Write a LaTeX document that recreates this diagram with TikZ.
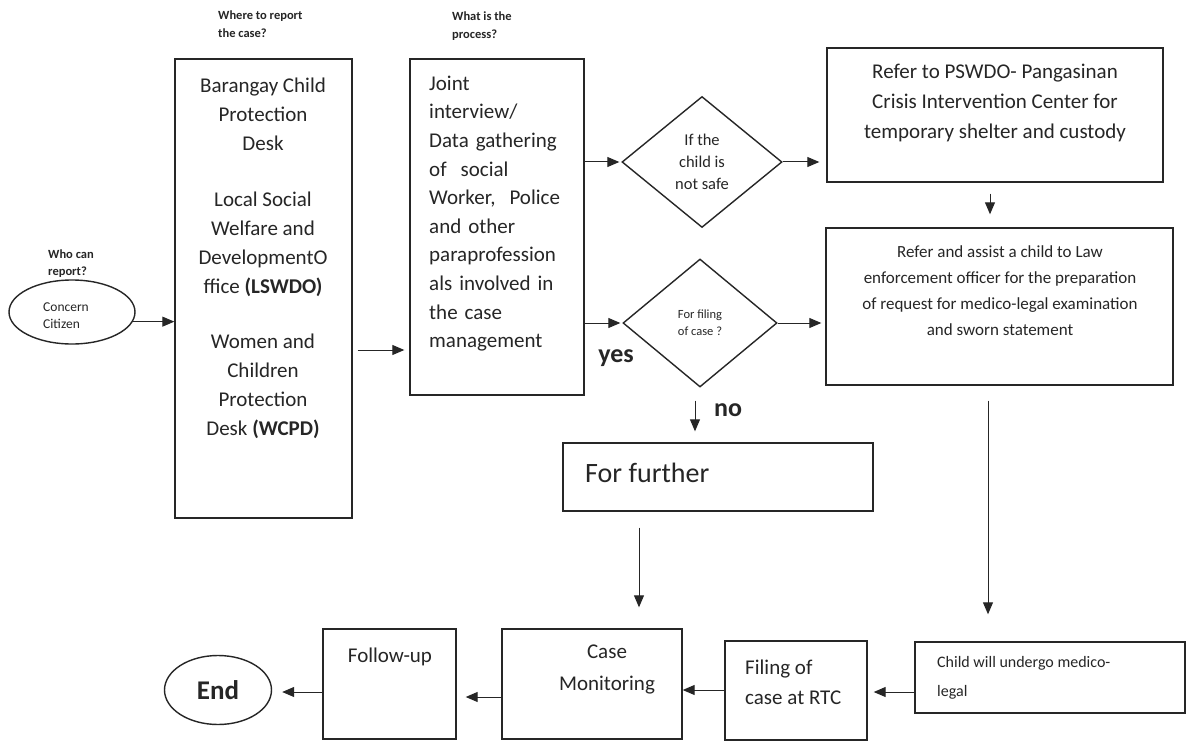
\documentclass[tikz,border=0pt]{standalone}
\usepackage{fontspec}
\setmainfont{Carlito}
\usetikzlibrary{shapes.geometric,arrows.meta}
\newcommand\fsz[2]{\fontsize{#1}{#2}\selectfont}
\begin{document}
\begin{tikzpicture}[x=1pt,y=-1pt,
  every node/.style={text=black!85, inner sep=0pt},
  box/.style={draw=black!85, line width=1.4pt, rectangle, inner sep=0pt},
  oval/.style={draw=black!85, line width=1.4pt, ellipse, inner sep=0pt},
  dia/.style={draw=black!85, line width=1.4pt, diamond, inner sep=0pt},
  arr/.style={draw=black!85, line width=1pt, -{Triangle[length=12pt,width=10pt]}},
  lbl/.style={font=\fsz{12.5}{17.5}\bfseries, align=left, anchor=west},
  txt/.style={font=\fsz{21}{29}, align=center},
]
\fill[white] (0,0) rectangle (1194,741);
\useasboundingbox (0,0) rectangle (1194,741);

% helper coordinates
\coordinate (x990) at (990,0);
\coordinate (x988) at (988,0);
\coordinate (x695) at (695,0);
\coordinate (x639) at (639,0);
\coordinate (y350) at (0,350);
\coordinate (y692) at (0,692);
\coordinate (y690) at (0,690);
\coordinate (y697) at (0,697);

% question labels
\node[lbl] (q1) at (218,24) {Where to report\\the case?};
\node[lbl] (q2) at (452,26) {What is the\\process?};
\node[lbl] (q3) at (48,263.5) {Who can\\report?};

% start ellipse
\node[oval, minimum width=126pt, minimum height=64pt] (cc) at (72,312) {};
\node[font=\fsz{13.5}{17}, align=left, anchor=west] (cct) at (43,315.5) {Concern\\Citizen};

% box 1
\node[box, minimum width=177pt, minimum height=459pt] (b1) at (263.5,288.5) {};
\node[txt] (t1a) at (263,114) {Barangay Child\\Protection\\Desk};
\node[txt] (t1b) at (263,244) {Local Social\\Welfare and\\DevelopmentO\\ffice \textbf{(LSWDO)}};
\node[txt] (t1c) at (263,386.5) {Women and\\Children\\Protection\\Desk \textbf{(WCPD)}};

% box 2
\node[box, minimum width=174pt, minimum height=336pt] (b2) at (497,227) {};
\node[font=\fsz{21}{28.6}, align=left, text width=152pt, anchor=west] (t2) at (429,213.5)
  {Joint\\interview/\\Data gathering\\of\ \ social\\Worker,\ \ Police\\and other\\paraprofession\\als involved in\\the case\\management};

% diamonds
\node[dia, minimum width=160pt, minimum height=131pt, font=\fsz{16.5}{22}, align=center] (d1) at (702,162) {If the\\child is\\not safe};
\node[dia, minimum width=154pt, minimum height=128pt, font=\fsz{12.5}{17}, align=center] (d2) at (700,323) {For filing\\of case ?};

% right boxes
\node[box, minimum width=336pt, minimum height=134pt] (b3) at (995,115) {};
\node[font=\fsz{21}{30}, align=center] (t3) at (995,103) {Refer to PSWDO- Pangasinan\\Crisis Intervention Center for\\temporary shelter and custody};

\node[box, minimum width=347pt, minimum height=157pt] (b4) at (999.5,306.5) {};
\node[font=\fsz{17}{26}, align=center] (t4) at (1000,291) {Refer and assist a child to Law\\enforcement officer for the preparation\\of request for medico-legal examination\\and sworn statement};

% yes / no
\node[font=\fsz{26}{30}\bfseries] (yes) at (616,358) {yes};
\node[font=\fsz{26}{30}\bfseries] (no) at (728,410) {no};

% for further
\node[box, minimum width=310pt, minimum height=68pt] (fb) at (718,477) {};
\node[font=\fsz{28}{32}, anchor=west] (tfb) at (585,473) {For further};

% bottom row
\node[box, minimum width=270pt, minimum height=71pt] (ch) at (1050,677.5) {};
\node[font=\fsz{16}{29}, align=left, anchor=west] (tch) at (937,677.5) {Child will undergo medico-\\legal};

\node[box, minimum width=142pt, minimum height=99pt] (fl) at (796,690.5) {};
\node[font=\fsz{21}{30}, align=left, anchor=west] (tfl) at (745,682) {Filing of\\case at RTC};

\node[box, minimum width=180pt, minimum height=110pt] (cm) at (592,684) {};
\node[font=\fsz{21}{32}, align=center] (tcm) at (607,669) {Case\\Monitoring};

\node[box, minimum width=133pt, minimum height=110pt] (fu) at (389.5,684) {};
\node[font=\fsz{21}{25}] (tfu) at (390,657) {Follow-up};

\node[oval, minimum width=107pt, minimum height=69pt, font=\fsz{27}{30}\bfseries] (en) at (218,690) {End};

% connectors
\draw[arr] (cc.-9) -- (cc.-9 -| b1.west);
\draw[arr, shorten <=5pt, shorten >=5pt] (b1.east |- y350) -- (b2.west |- y350);
\draw[arr, shorten >=2pt] (b2.east |- d1.west) -- (d1.west);
\draw[arr, shorten >=2pt] (b2.east |- d2.west) -- (d2.west);
\draw[arr, shorten >=7pt] (d1.east) -- (d1.east -| b3.west);
\draw[arr, shorten >=4pt] (d2.east) -- (d2.east -| b4.west);
\draw[arr, shorten <=11pt, shorten >=13pt] (b3.south -| x990) -- (b4.north -| x990);
\draw[arr, shorten <=15pt, shorten >=27pt] (b4.south -| x988) -- (ch.north -| x988);
\draw[arr, shorten <=13pt, shorten >=11pt] (d2.south -| x695) -- (fb.north -| x695);
\draw[arr, shorten <=16pt, shorten >=21pt] (fb.south -| x639) -- (cm.north -| x639);
\draw[arr, shorten >=6pt] (ch.west |- y692) -- (fl.east |- y692);
\draw[arr] (fl.west |- y690) -- (cm.east |- y690);
\draw[arr, shorten >=9pt] (cm.west |- y697) -- (fu.east |- y697);
\draw[arr, shorten >=10pt] (fu.west |- y692) -- (en.east |- y692);
\end{tikzpicture}
\end{document}
